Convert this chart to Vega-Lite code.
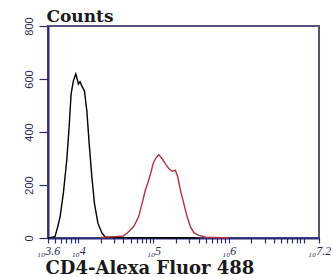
{
  "$schema": "https://vega.github.io/schema/vega-lite/v6.json",
  "width": 271,
  "height": 212,
  "autosize": "none",
  "padding": {"left": 48, "top": 26, "right": 12, "bottom": 39},
  "background": "white",
  "config": {"view": {"stroke": "#55557a", "strokeWidth": 2}},
  "data": {"values": [
    {"sample": "control", "intensity": 3981, "count": 0},
    {"sample": "control", "intensity": 4932, "count": 5},
    {"sample": "control", "intensity": 5358, "count": 42},
    {"sample": "control", "intensity": 5754, "count": 79},
    {"sample": "control", "intensity": 6368, "count": 169},
    {"sample": "control", "intensity": 7063, "count": 293},
    {"sample": "control", "intensity": 7586, "count": 416},
    {"sample": "control", "intensity": 8072, "count": 544},
    {"sample": "control", "intensity": 8650, "count": 593},
    {"sample": "control", "intensity": 9311, "count": 619},
    {"sample": "control", "intensity": 9700, "count": 600},
    {"sample": "control", "intensity": 10093, "count": 581},
    {"sample": "control", "intensity": 10600, "count": 590},
    {"sample": "control", "intensity": 11194, "count": 574},
    {"sample": "control", "intensity": 12134, "count": 555},
    {"sample": "control", "intensity": 13062, "count": 480},
    {"sample": "control", "intensity": 14028, "count": 356},
    {"sample": "control", "intensity": 15241, "count": 229},
    {"sample": "control", "intensity": 16482, "count": 131},
    {"sample": "control", "intensity": 18323, "count": 56},
    {"sample": "control", "intensity": 20701, "count": 19},
    {"sample": "control", "intensity": 22909, "count": 4},
    {"sample": "control", "intensity": 39811, "count": 2},
    {"sample": "control", "intensity": 158489, "count": 1},
    {"sample": "control", "intensity": 398107, "count": 0},
    {"sample": "CD4", "intensity": 19953, "count": 2},
    {"sample": "CD4", "intensity": 31623, "count": 5},
    {"sample": "CD4", "intensity": 39811, "count": 8},
    {"sample": "CD4", "intensity": 44566, "count": 18},
    {"sample": "CD4", "intensity": 54576, "count": 42},
    {"sample": "CD4", "intensity": 63680, "count": 80},
    {"sample": "CD4", "intensity": 70632, "count": 130},
    {"sample": "CD4", "intensity": 78163, "count": 180},
    {"sample": "CD4", "intensity": 86497, "count": 218},
    {"sample": "CD4", "intensity": 93111, "count": 249},
    {"sample": "CD4", "intensity": 99083, "count": 280},
    {"sample": "CD4", "intensity": 106414, "count": 299},
    {"sample": "CD4", "intensity": 117761, "count": 315},
    {"sample": "CD4", "intensity": 130617, "count": 299},
    {"sample": "CD4", "intensity": 144544, "count": 280},
    {"sample": "CD4", "intensity": 159956, "count": 262},
    {"sample": "CD4", "intensity": 177419, "count": 252},
    {"sample": "CD4", "intensity": 196336, "count": 255},
    {"sample": "CD4", "intensity": 210863, "count": 230},
    {"sample": "CD4", "intensity": 229087, "count": 180},
    {"sample": "CD4", "intensity": 253513, "count": 130},
    {"sample": "CD4", "intensity": 281190, "count": 80},
    {"sample": "CD4", "intensity": 311172, "count": 42},
    {"sample": "CD4", "intensity": 344350, "count": 20},
    {"sample": "CD4", "intensity": 401791, "count": 10},
    {"sample": "CD4", "intensity": 501187, "count": 3},
    {"sample": "CD4", "intensity": 794328, "count": 1},
    {"sample": "CD4", "intensity": 1000000, "count": 0}
  ]},
  "mark": {"type": "line", "strokeWidth": 1.4, "interpolate": "linear"},
  "encoding": {
    "x": {
      "field": "intensity", "type": "quantitative",
      "scale": {"type": "log", "domain": [3981.07, 15848931.9], "nice": false},
      "axis": {
        "title": "CD4-Alexa Fluor 488",
        "titleFont": "DejaVu Serif", "titleFontWeight": "bold", "titleFontSize": 18, "titleColor": "#1a1a1a",
        "titleAnchor": "start", "titleAlign": "left", "titleBaseline": "alphabetic", "titleX": -3, "titleY": 35,
        "values": [3981.07, 5000, 6000, 7000, 8000, 9000, 10000, 20000, 30000, 40000, 50000, 60000, 70000, 80000, 90000, 100000, 200000, 300000, 400000, 500000, 600000, 700000, 800000, 900000, 1000000, 2000000, 3000000, 4000000, 5000000, 6000000, 7000000, 8000000, 9000000, 10000000, 15848931.9],
        "labelExpr": "datum.value < 4000 ? '₁₀3.6' : datum.value > 15000000 ? '₁₀7.2' : indexof([10000, 100000, 1000000], datum.value) >= 0 ? '₁₀' + round(log(datum.value) / LN10) : ''",
        "labelOverlap": false, "labelFlush": false, "labelBound": false,
        "labelFont": "Liberation Serif", "labelFontStyle": "italic", "labelFontSize": 12, "labelColor": "#2a2a5a", "labelPadding": 2,
        "domainColor": "#2b2b7a", "domainWidth": 2, "tickColor": "#2b2b7a", "tickSize": 5, "tickWidth": 1.2,
        "grid": false
      }
    },
    "y": {
      "field": "count", "type": "quantitative",
      "scale": {"domain": [0, 800], "nice": false},
      "axis": {
        "title": "Counts",
        "titleFont": "DejaVu Serif", "titleFontWeight": "bold", "titleFontSize": 17, "titleColor": "#1a1a1a",
        "titleAngle": 0, "titleAlign": "left", "titleBaseline": "alphabetic", "titleX": -2, "titleY": -5,
        "values": [0, 200, 400, 600, 800],
        "labelAngle": 270, "labelAlign": "center", "labelBaseline": "bottom",
        "labelFont": "Liberation Sans", "labelFontSize": 11, "labelColor": "#2a2a6a", "labelPadding": 5,
        "domainColor": "#2b2b7a", "domainWidth": 2, "tickColor": "#2b2b7a", "tickSize": 9, "tickWidth": 1.2,
        "grid": false
      }
    },
    "color": {
      "field": "sample", "type": "nominal",
      "scale": {"domain": ["control", "CD4"], "range": ["#000000", "#b3323e"]},
      "legend": null
    }
  }
}
